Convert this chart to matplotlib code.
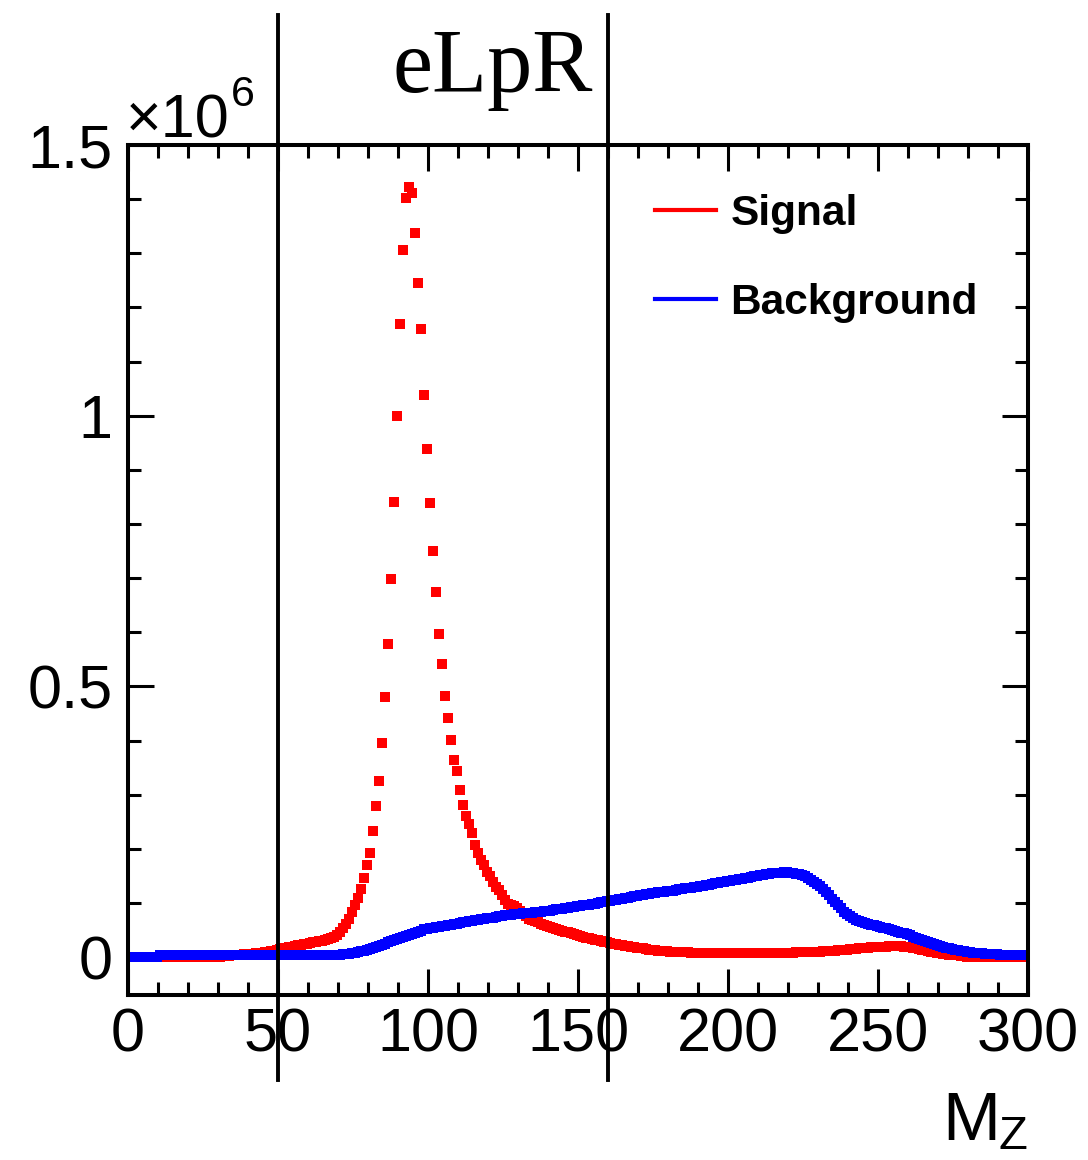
import numpy as np
import matplotlib
matplotlib.use("Agg")
import matplotlib.pyplot as plt
from matplotlib.lines import Line2D
from matplotlib.ticker import MultipleLocator

plt.rcParams['font.family'] = ['Liberation Sans', 'DejaVu Sans']

# entries per 1 GeV bin of M_Z, in thousands (bins 0-1, 1-2, ... 299-300)
SIGNAL = [
    1, 1, 1, 1, 1, 1, 1, 1, 1, 1,
    1, 1, 1, 1, 0, 0, 0, 0, 0, 0,
    0, 0, 0, 0, 0, 0, 0, 0, 1, 1,
    1, 2, 2, 2, 3, 3, 4, 4, 5, 5,
    6, 6, 7, 8, 8, 9, 10, 11, 12, 13,
    15, 16, 17, 18, 19, 20, 22, 23, 24, 25,
    26, 27, 28, 29, 30, 32, 33, 35, 37, 40,
    47, 54, 61, 71, 84, 97, 110, 125, 146, 170,
    192, 233, 279, 326, 396, 480, 578, 698, 841, 1000,
    1169, 1306, 1402, 1422, 1411, 1337, 1246, 1161, 1039, 939,
    839, 750, 674, 596, 541, 483, 442, 401, 364, 344,
    309, 281, 261, 245, 230, 207, 192, 180, 170, 158,
    149, 139, 130, 124, 115, 106, 99, 97, 94, 91,
    86, 80, 75, 71, 68, 66, 64, 62, 60, 57,
    55, 53, 51, 50, 48, 47, 46, 44, 43, 41,
    39, 38, 36, 35, 33, 32, 31, 30, 28, 27,
    26, 25, 24, 23, 22, 21, 20, 19, 18, 17,
    17, 16, 15, 14, 14, 13, 12, 12, 11, 11,
    10, 10, 10, 9, 9, 9, 9, 8, 8, 8,
    8, 8, 8, 7, 7, 7, 7, 7, 7, 7,
    7, 7, 7, 7, 7, 7, 7, 7, 7, 7,
    7, 7, 7, 7, 8, 8, 8, 8, 8, 8,
    8, 8, 9, 9, 9, 9, 9, 10, 10, 10,
    10, 11, 11, 11, 12, 12, 13, 13, 14, 14,
    15, 15, 15, 16, 16, 17, 17, 18, 18, 18,
    19, 19, 19, 20, 20, 20, 20, 20, 19, 19,
    18, 17, 16, 15, 14, 13, 12, 10, 9, 8,
    7, 6, 5, 4, 4, 3, 3, 2, 2, 1,
    1, 1, 1, 1, 0, 0, 0, 0, 0, 0,
    0, 0, 0, 0, 0, 0, 0, 0, 0, 0,
]

BACKGROUND = [
    1, 1, 1, 1, 1, 1, 1, 1, 1, 1,
    4, 4, 4, 4, 4, 4, 4, 4, 4, 4,
    4, 4, 4, 4, 4, 4, 4, 4, 4, 4,
    4, 4, 4, 4, 4, 4, 4, 4, 4, 4,
    4, 4, 4, 4, 4, 4, 4, 4, 4, 4,
    4, 4, 4, 4, 4, 4, 4, 4, 4, 4,
    4, 4, 4, 4, 4, 4, 4, 4, 4, 4,
    4, 5, 5, 6, 7, 8, 9, 11, 12, 14,
    15, 17, 19, 21, 23, 25, 27, 29, 31, 33,
    35, 37, 39, 41, 43, 45, 47, 49, 51, 52,
    53, 54, 55, 56, 57, 58, 59, 60, 61, 62,
    63, 64, 65, 66, 67, 68, 69, 70, 71, 72,
    73, 73, 74, 75, 76, 77, 77, 78, 79, 80,
    80, 81, 81, 82, 82, 83, 84, 84, 85, 85,
    86, 87, 88, 88, 89, 90, 91, 92, 93, 94,
    95, 96, 97, 97, 98, 99, 100, 101, 102, 103,
    104, 105, 106, 107, 108, 109, 110, 111, 112, 113,
    114, 115, 116, 117, 118, 119, 120, 120, 121, 122,
    123, 123, 124, 125, 126, 127, 127, 128, 129, 130,
    131, 132, 133, 134, 135, 136, 137, 138, 139, 140,
    141, 142, 143, 144, 145, 146, 147, 148, 149, 150,
    151, 152, 153, 154, 155, 155, 156, 156, 157, 157,
    156, 155, 154, 153, 152, 150, 147, 143, 139, 135,
    131, 126, 120, 114, 108, 102, 96, 90, 84, 79,
    75, 72, 69, 67, 65, 63, 62, 60, 59, 57,
    56, 54, 53, 51, 50, 48, 47, 45, 44, 42,
    40, 38, 36, 34, 32, 30, 28, 26, 24, 22,
    20, 19, 17, 16, 15, 14, 13, 12, 11, 10,
    9, 8, 8, 7, 7, 6, 6, 5, 5, 5,
    4, 4, 4, 4, 4, 4, 3, 3, 3, 3,
]

X_TICKS = [0, 50, 100, 150, 200, 250, 300]
Y_TICKS = [0, 0.5, 1, 1.5]          # in units of 1e6
Y_LABELS = ["0", "0.5", "1", "1.5"]
CUTS = [50, 160]                    # mass window

W, H = 1088, 1160
fig = plt.figure(figsize=(W / 100, H / 100), dpi=100)
ax = fig.add_axes([128 / W, 1 - 995 / H, 900 / W, 850 / H])

centers = np.arange(len(SIGNAL)) + 0.5
sig = np.array(SIGNAL) * 1e3
bkg = np.array(BACKGROUND) * 1e3

ax.plot(centers, sig, 's', color='red', ms=6.7, mew=0, ls='none')
ax.plot(centers, bkg, 's', color='blue', ms=6.7, mew=0, ls='none')

ax.set_xlim(0, 300)
ax.set_ylim(-0.07e6, 1.5e6)

ax.set_xticks(X_TICKS)
ax.set_xticklabels([str(t) for t in X_TICKS])
ax.xaxis.set_minor_locator(MultipleLocator(10))
ax.set_yticks([t * 1e6 for t in Y_TICKS])
ax.set_yticklabels(Y_LABELS)
ax.yaxis.set_minor_locator(MultipleLocator(0.1e6))

ax.tick_params(which='both', direction='in', top=True, right=True, width=2.2, labelsize=44)
ax.tick_params(which='major', length=19)
ax.tick_params(which='minor', length=9.5)
ax.tick_params(axis='x', pad=9)
ax.tick_params(axis='y', pad=11)
for sp in ax.spines.values():
    sp.set_linewidth(2.9)

for c in CUTS:
    ax.axvline(c, ymin=-0.1, ymax=1.153, color='black', lw=2.8, clip_on=False)

fig.text(493 / W, 1 - 92 / H, 'eLpR', family='Liberation Serif', fontsize=65,
         ha='center', va='baseline')
fig.text(126 / W, 1 - 137 / H, '×10', fontsize=44, va='baseline')
fig.text(231 / W, 1 - 106 / H, '6', fontsize=31, va='baseline')
fig.text(1000 / W, 1 - 1140 / H, 'M', fontsize=50, ha='right', va='baseline')
fig.text(999 / W, 1 - 1159 / H, 'Z', fontsize=34, ha='left', va='bottom')

handles = [Line2D([], [], color='red', lw=3), Line2D([], [], color='blue', lw=3)]
fig.legend(handles, ['Signal', 'Background'], loc='upper left',
           bbox_to_anchor=(655 / W, 1 - 194 / H), frameon=False,
           prop={'weight': 'bold', 'size': 30.5}, handlelength=1.45,
           handletextpad=0.33, labelspacing=1.15, borderpad=0, borderaxespad=0)

fig.savefig('out.png', dpi=100)
